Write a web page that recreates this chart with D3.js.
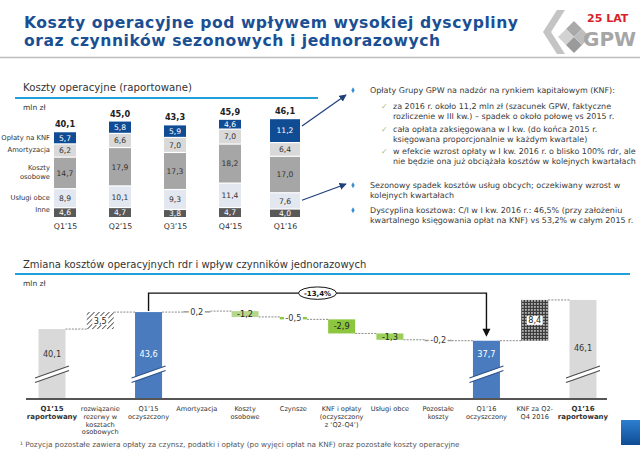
<!DOCTYPE html>
<html><head><meta charset="utf-8">
<script src="https://cdn.jsdelivr.net/npm/d3@7"></script>
<style>
body{margin:0;background:#fff;}
svg{display:block;font-family:"DejaVu Sans",Verdana,sans-serif;}
</style></head><body>
<svg id="c" width="640" height="453"></svg>
<script>
// ---------- DATA ----------
const titleLines = ["Koszty operacyjne pod wpływem wysokiej dyscypliny","oraz czynników sezonowych i jednorazowych"];
const topTitle = "Koszty operacyjne (raportowane)";
const unitLabel = "mln zł";
const quarters = ["Q1’15","Q2’15","Q3’15","Q4’15","Q1’16"];
const seriesNames = ["Inne","Usługi obce","Koszty osobowe","Amortyzacja","Opłaty na KNF"];
const inne = [4.6,4.7,3.8,4.7,4.0];
const uslugiObce = [8.9,10.1,9.3,11.4,7.6];
const kosztyOsobowe = [14.7,17.9,17.3,18.2,17.0];
const amortyzacja = [6.2,6.6,7.0,7.0,6.4];
const oplatyKNF = [5.7,5.8,5.9,4.6,11.2];
const totals = [40.1,45.0,43.3,45.9,46.1];

const notes = [
  {kind:"bullet", lines:["Opłaty Grupy GPW na nadzór na rynkiem kapitałowym (KNF):"]},
  {kind:"check", lines:["za 2016 r. około 11,2 mln zł (szacunek GPW, faktyczne","rozliczenie w III kw.) – spadek o około połowę vs 2015 r."]},
  {kind:"check", lines:["cała opłata zaksięgowana w I kw. (do końca 2015 r.","księgowana proporcjonalnie w każdym kwartale)"]},
  {kind:"check", lines:["w efekcie wzrost opłaty w I kw. 2016 r. o blisko 100% rdr, ale","nie będzie ona już obciążała kosztów w kolejnych kwartałach"]},
  {kind:"bullet", lines:["Sezonowy spadek kosztów usług obcych; oczekiwany wzrost w","kolejnych kwartałach"]},
  {kind:"bullet", lines:["Dyscyplina kosztowa: C/I w I kw. 2016 r.: 46,5% (przy założeniu","kwartalnego księgowania opłat na KNF) vs 53,2% w całym 2015 r."]}
];

const wfTitle = "Zmiana kosztów operacyjnych rdr i wpływ czynników jednorazowych";
const wfCategories = ["Q1’15\nraportowany","rozwiązanie\nrezerwy w\nkosztach\nosobowych","Q1’15\noczyszczony","Amortyzacja","Koszty\nosobowe","Czynsze","KNF i opłaty\n(oczyszczony\nz ‘Q2-Q4’)","Usługi obce","Pozostałe\nkoszty","Q1’16\noczyszczony","KNF za Q2-\nQ4 2016","Q1’16\nraportowany"];
const wfValues = [40.1,3.5,43.6,0.2,-1.2,-0.5,-2.9,-1.3,-0.2,37.7,8.4,46.1];
const wfTypes = ["total","delta","total","delta","delta","delta","delta","delta","delta","total","delta","total"];
const wfChangeLabel = "-13,4%";
const footnote = "¹ Pozycja pozostałe zawiera opłaty za czynsz, podatki i opłaty (po wyjęci opłat na KNF) oraz pozostałe koszty operacyjne";

// ---------- SETUP ----------
const svg = d3.select("#c");
const fmt = d3.formatLocale({decimal:",",thousands:" ",grouping:[3],currency:["",""],minus:"-"}).format(".1f");
const defs = svg.append("defs");
function measure(text, weight, size){
  const t = svg.append("text").attr("font-size",size).attr("font-weight",weight).text(text);
  const w = t.node().getComputedTextLength(); t.remove();
  return w;
}
function fitSize(text, weight, targetW){ return 10*targetW/measure(text,weight,10); }
defs.append("marker").attr("id","arrBlue").attr("viewBox","0 0 10 10").attr("refX",9).attr("refY",5)
  .attr("markerWidth",6).attr("markerHeight",6).attr("orient","auto")
  .append("path").attr("d","M0,0L10,5L0,10Z").attr("fill","#1f3f7a");
const hatch = defs.append("pattern").attr("id","hatch").attr("width",3.5).attr("height",3.5)
  .attr("patternUnits","userSpaceOnUse").attr("patternTransform","rotate(45)");
hatch.append("rect").attr("width",3.5).attr("height",3.5).attr("fill","#fff");
hatch.append("line").attr("x1",0).attr("y1",0).attr("x2",0).attr("y2",3.5).attr("stroke","#222").attr("stroke-width",1.4);
const checker = defs.append("pattern").attr("id","checker").attr("width",3).attr("height",3).attr("patternUnits","userSpaceOnUse");
checker.append("rect").attr("width",3).attr("height",3).attr("fill","#3c3c3c");
checker.append("rect").attr("width",1.8).attr("height",1.8).attr("fill","#b0b0b0");

// ---------- HEADER ----------
const titleSize = 15.6;
const tw = measure(titleLines[0],"bold",titleSize);
const titleLS = (494 - tw)/(titleLines[0].length-1);
svg.selectAll("text.title").data(titleLines).join("text").attr("class","title")
  .attr("x",24).attr("y",(d,i)=>27.5+i*18.5).attr("font-size",titleSize).attr("font-weight","bold")
  .attr("letter-spacing",titleLS).attr("fill","#1b4f93").text(d=>d);
svg.append("line").attr("x1",0).attr("x2",640).attr("y1",57.5).attr("y2",57.5).attr("stroke","#bdbdbd").attr("stroke-width",1.5);
// logo
const logo = svg.append("g");
logo.append("polygon").attr("points","557,10 565,10 551,32 565,54 557,54 543,32").attr("fill","#c4c4c4");
logo.append("polygon").attr("points","566,13 582,29 574,37 566,29 574,21").attr("fill","#a9a9a9");
logo.append("polygon").attr("points","566,29 574,37 566,45 558,37").attr("fill","#d2d2d2");
logo.append("polygon").attr("points","574,37 582,45 574,53 566,45").attr("fill","#9a9a9a");
logo.append("polygon").attr("points","582,29 590,37 582,45 574,37").attr("fill","#bdbdbd");
logo.append("text").attr("x",587).attr("y",22).attr("font-size",11).attr("font-weight","bold").attr("fill","#d81e2a").text("25 LAT");
logo.append("text").attr("x",583).attr("y",46).attr("font-size",20).attr("font-weight","bold").attr("fill","#a6a6a6").text("GPW");

// ---------- TOP STACKED CHART ----------
const subSize = fitSize(topTitle,"normal",169);
svg.append("text").attr("x",23).attr("y",91).attr("font-size",subSize).attr("fill","#333").text(topTitle);
svg.append("line").attr("x1",15).attr("x2",318).attr("y1",98).attr("y2",98).attr("stroke","#21a0db").attr("stroke-width",2.2);
svg.append("text").attr("x",23).attr("y",110).attr("font-size",7.5).attr("fill","#333").text(unitLabel);

const rows = quarters.map((q,i)=>({q, "Inne":inne[i], "Usługi obce":uslugiObce[i], "Koszty osobowe":kosztyOsobowe[i], "Amortyzacja":amortyzacja[i], "Opłaty na KNF":oplatyKNF[i]}));
const stack = d3.stack().keys(seriesNames)(rows);
const x1 = d3.scalePoint().domain(quarters).range([65,285]);
const y1 = d3.scaleLinear().domain([0, d3.max(stack[stack.length-1], d=>d[1])]).range([217,118]);
const segFill = ["#595959","#e2e7f0","#a6a6a6","#d9d9d9","#0f4c94"];
const segText = ["#fff","#333","#333","#333","#fff"];
const bw = (i)=> i===quarters.length-1 ? 30 : 22;

const gTop = svg.append("g");
stack.forEach((s,si)=>{
  const g = gTop.append("g");
  g.selectAll("rect").data(s).join("rect")
    .attr("x",(d,i)=>x1(quarters[i])-bw(i)/2).attr("width",(d,i)=>bw(i))
    .attr("y",d=>y1(d[1])+1.2).attr("height",d=>Math.max(0,y1(d[0])-y1(d[1])-1.2))
    .attr("fill",segFill[si]);
  g.selectAll("text").data(s).join("text")
    .attr("x",(d,i)=>x1(quarters[i])).attr("y",d=>(y1(d[0])+y1(d[1]))/2+3.4)
    .attr("text-anchor","middle").attr("font-size",7.6).attr("fill",segText[si])
    .text(d=>fmt(d[1]-d[0]));
  const d0 = s[0];
  const parts = seriesNames[si]==="Koszty osobowe" ? ["Koszty","osobowe"] : [seriesNames[si]];
  const ym = (y1(d0[0])+y1(d0[1]))/2 + 2.5 - (parts.length-1)*4.5 - (si===0?3:0);
  parts.forEach((p,k)=>svg.append("text").attr("x",50).attr("y",ym+k*9).attr("text-anchor","end")
    .attr("font-size",6.8).attr("fill","#333").text(p));
});
gTop.selectAll("text.tot").data(totals).join("text").attr("class","tot")
  .attr("x",(d,i)=>x1(quarters[i])).attr("y",d=>y1(d)-4).attr("text-anchor","middle")
  .attr("font-size",8.2).attr("font-weight","bold").attr("fill","#222").text(d=>fmt(d));
const ax1 = svg.append("g").attr("transform","translate(0,220)").call(d3.axisBottom(x1).tickSize(0));
ax1.select(".domain").remove();
ax1.selectAll("text").attr("font-size",7.8).attr("fill","#333").attr("font-family","DejaVu Sans, sans-serif");

// arrows to notes
const lastQ = quarters[quarters.length-1], li = quarters.length-1;
const stTop = stack[4][li], stUs = stack[1][li];
svg.append("line").attr("x1",x1(lastQ)+bw(li)/2+2).attr("y1",(y1(stTop[0])+y1(stTop[1]))/2-4)
  .attr("x2",346).attr("y2",95).attr("stroke","#1f3f7a").attr("stroke-width",1.2).attr("marker-end","url(#arrBlue)");
svg.append("line").attr("x1",x1(lastQ)+bw(li)/2+2).attr("y1",(y1(stUs[0])+y1(stUs[1]))/2)
  .attr("x2",346).attr("y2",184).attr("stroke","#1f3f7a").attr("stroke-width",1.2).attr("marker-end","url(#arrBlue)");

// ---------- NOTES ----------
const noteSize = fitSize(notes[3].lines[0],"normal",243);
const noteY = [93,109,132,154,188,213];
notes.forEach((n,i)=>{
  const tx = n.kind==="bullet" ? 370 : 393;
  if(n.kind==="bullet"){
    svg.append("path").attr("d",d3.symbol(d3.symbolDiamond,10)).attr("transform",`translate(353,${noteY[i]-2.8})`).attr("fill","#3a8fd0");
  } else {
    svg.append("text").attr("x",381).attr("y",noteY[i]).attr("font-size",noteSize).attr("fill","#a9b98a").text("✓");
  }
  n.lines.forEach((l,k)=>svg.append("text").attr("x",tx).attr("y",noteY[i]+k*10).attr("font-size",noteSize).attr("fill","#3a3a3a").text(l));
});

// ---------- WATERFALL ----------
const wfSize = fitSize(wfTitle,"normal",344);
svg.append("text").attr("x",23).attr("y",268).attr("font-size",wfSize).attr("fill","#333").text(wfTitle);
svg.append("line").attr("x1",15).attr("x2",630).attr("y1",274).attr("y2",274).attr("stroke","#21a0db").attr("stroke-width",2.2);
svg.append("text").attr("x",23).attr("y",286).attr("font-size",7.5).attr("fill","#333").text(unitLabel);

const x2 = d3.scalePoint().domain(wfCategories).range([52,583]);
const y2 = d3.scaleLinear().domain([25.7,50]).range([399,281]);
const wfFill = ["#d9d9d9","url(#hatch)","#4a7bbf","#9a9a9a","#b5d78b","#8cc63f","#8cc63f","#9ccf5a","#9a9a9a","#4a7bbf","url(#checker)","#d9d9d9"];
const wfBreak = ["#4d4d4d",null,"#2c5288",null,null,null,null,null,null,"#2c5288",null,"#4d4d4d"];
const wfLabelFill = ["#333","#222","#fff","#333","#222","#333","#222","#222","#333","#fff","#222","#333"];
const base = y2.domain()[0];
let run = 0;
const steps = wfValues.map((v,i)=>{
  let a,b;
  if(wfTypes[i]==="total"){ a=base; b=v; run=v; }
  else { a=run; b=run+v; run=b; }
  return {cat:wfCategories[i], v, a, b, end:run, type:wfTypes[i], i};
});
const BW = 27;
const gW = svg.append("g");
gW.selectAll("line.con").data(steps.slice(0,-1)).join("line").attr("class","con")
  .attr("x1",d=>x2(d.cat)+BW/2).attr("x2",(d)=>x2(wfCategories[d.i+1])-BW/2)
  .attr("y1",d=>y2(d.end)).attr("y2",d=>y2(d.end))
  .attr("stroke","#8a8a8a").attr("stroke-width",1).attr("stroke-dasharray","2,1.2");
gW.selectAll("rect.bar").data(steps).join("rect").attr("class","bar")
  .attr("x",d=>x2(d.cat)-BW/2).attr("width",BW)
  .attr("y",d=>y2(Math.max(d.a,d.b))).attr("height",d=>Math.max(1.5,Math.abs(y2(d.a)-y2(d.b))))
  .attr("fill",d=>wfFill[d.i]);
steps.filter(d=>d.type==="total").forEach(d=>{
  const cx = x2(d.cat), yb = 372;
  gW.append("polygon").attr("points",`${cx-17},${yb+6} ${cx+17},${yb-6} ${cx+17},${yb-1.5} ${cx-17},${yb+10.5}`)
    .attr("fill","#fff");
  [0,4.5].forEach(o=>gW.append("line").attr("x1",cx-17).attr("y1",yb+6+o).attr("x2",cx+17).attr("y2",yb-6+o)
    .attr("stroke",wfBreak[d.i]).attr("stroke-width",1.1));
});
const gLab = svg.append("g");
steps.forEach(d=>{
  const cx = x2(d.cat);
  if(d.type==="total"){
    gLab.append("text").attr("x",cx).attr("y",d.i===11?351:357).attr("text-anchor","middle").attr("font-size",8.2)
      .attr("fill",wfLabelFill[d.i]).text(fmt(d.v));
    return;
  }
  const cy = (y2(d.a)+y2(d.b))/2;
  const needBg = d.i===1 || d.i===10 || Math.abs(d.v)<1;
  const bgRect = needBg ? gLab.append("rect") : null;
  const t = gLab.append("text").attr("x",cx).attr("y",cy+3).attr("text-anchor","middle").attr("font-size",8.2)
    .attr("fill",wfLabelFill[d.i]).text(fmt(d.v));
  if(bgRect){
    const bb = t.node().getBBox();
    bgRect.attr("x",bb.x-1.5).attr("y",bb.y+0.5).attr("width",bb.width+3).attr("height",bb.height-1).attr("fill","#fff");
  }
});
const iFrom = 2, iTo = 9;
const yTop = y2(47.5);
const xa = x2(wfCategories[iFrom]), xb = x2(wfCategories[iTo]);
gW.append("path").attr("d",`M${xa},${y2(wfValues[iFrom])-1}V${yTop}H${xb}V${y2(wfValues[iTo])-6}`)
  .attr("fill","none").attr("stroke","#111").attr("stroke-width",1.4);
gW.append("path").attr("d",`M${xb-4},${y2(wfValues[iTo])-12}L${xb+4},${y2(wfValues[iTo])-12}L${xb},${y2(wfValues[iTo])-4}Z`).attr("fill","#111");
gW.append("ellipse").attr("cx",(xa+xb)/2).attr("cy",yTop).attr("rx",19).attr("ry",6.2).attr("fill","#fff").attr("stroke","#111").attr("stroke-width",1);
gW.append("text").attr("x",(xa+xb)/2).attr("y",yTop+2.6).attr("text-anchor","middle").attr("font-size",7).attr("font-weight","bold").attr("fill","#111").text(wfChangeLabel);
gW.append("line").attr("x1",26).attr("x2",607).attr("y1",399).attr("y2",399).attr("stroke","#555").attr("stroke-width",1.8);
const boldCats = new Set([0, wfCategories.length-1]);
wfCategories.forEach((c,i)=>{
  c.split("\n").forEach((l,k)=>gW.append("text").attr("x",x2(c)).attr("y",411+k*7.8).attr("text-anchor","middle")
    .attr("font-size",boldCats.has(i)?7:6.6).attr("font-weight",boldCats.has(i)?"bold":"normal").attr("fill","#333").text(l));
});
const fnSize = fitSize(footnote,"normal",440);
svg.append("text").attr("x",20).attr("y",447).attr("font-size",fnSize).attr("fill","#555").text(footnote);
const grad = defs.append("linearGradient").attr("id","tab").attr("x1",0).attr("y1",0).attr("x2",0).attr("y2",1);
grad.append("stop").attr("offset",0).attr("stop-color","#2d7fd0");
grad.append("stop").attr("offset",1).attr("stop-color","#0f4c94");
svg.append("rect").attr("x",621).attr("y",420).attr("width",19).attr("height",25).attr("fill","url(#tab)");
</script>
</body></html>
